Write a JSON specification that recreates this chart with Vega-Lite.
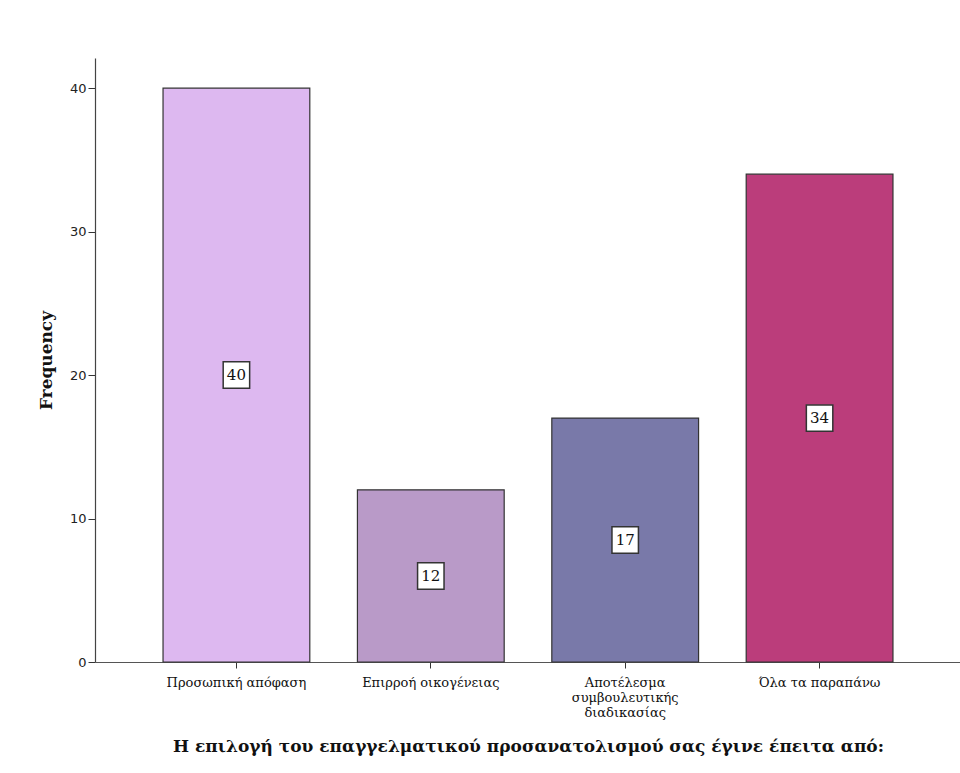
{
  "$schema": "https://vega.github.io/schema/vega-lite/v6.json",
  "width": 866,
  "height": 604,
  "autosize": {"type": "none"},
  "padding": {"left": 95, "top": 58, "right": 0, "bottom": 111},
  "background": "#ffffff",
  "config": {"view": {"stroke": null}},
  "data": {
    "values": [
      {"category": "Προσωπική απόφαση", "count": 40},
      {"category": "Επιρροή οικογένειας", "count": 12},
      {"category": "Αποτέλεσμα|συμβουλευτικής|διαδικασίας", "count": 17},
      {"category": "Όλα τα παραπάνω", "count": 34}
    ]
  },
  "transform": [{"calculate": "datum.count / 2", "as": "mid"}],
  "encoding": {
    "x": {
      "field": "category",
      "type": "nominal",
      "sort": null,
      "scale": {"paddingInner": 0.245, "paddingOuter": 0.35},
      "axis": {
        "title": "Η επιλογή του επαγγελματικού προσανατολισμού σας έγινε έπειτα από:",
        "labelExpr": "split(datum.value, '|')",
        "labelAngle": 0,
        "labelFont": "DejaVu Serif",
        "labelFontSize": 13,
        "labelColor": "#111111",
        "labelLineHeight": 15,
        "labelPadding": 8,
        "labelBaseline": "top",
        "tickSize": 6,
        "tickColor": "#333333",
        "domainColor": "#555555",
        "domainWidth": 1.2,
        "titleFont": "DejaVu Serif",
        "titleFontSize": 17,
        "titleFontWeight": "bold",
        "titleColor": "#111111",
        "titlePadding": 19
      }
    }
  },
  "layer": [
    {
      "mark": {"type": "bar", "stroke": "#333333", "strokeWidth": 1.2},
      "encoding": {
        "y": {
          "field": "count",
          "type": "quantitative",
          "scale": {"domain": [0, 42.1], "nice": false},
          "axis": {
            "title": "Frequency",
            "values": [0, 10, 20, 30, 40],
            "grid": false,
            "labelFont": "DejaVu Sans",
            "labelFontSize": 13,
            "labelColor": "#222222",
            "labelPadding": 2,
            "tickSize": 7,
            "tickColor": "#333333",
            "domainColor": "#444444",
            "domainWidth": 1.2,
            "titleFont": "DejaVu Serif",
            "titleFontSize": 17,
            "titleFontWeight": "bold",
            "titleColor": "#111111",
            "titlePadding": 14
          }
        },
        "color": {
          "field": "category",
          "type": "nominal",
          "sort": null,
          "scale": {"range": ["#DDB8F0", "#B99AC8", "#7979A9", "#BB3D7B"]},
          "legend": null
        }
      }
    },
    {
      "mark": {"type": "point", "shape": "square", "size": 700, "filled": true, "fill": "#ffffff", "stroke": "#333333", "strokeWidth": 1.5, "opacity": 1},
      "encoding": {
        "y": {"field": "mid", "type": "quantitative"}
      }
    },
    {
      "mark": {"type": "text", "font": "DejaVu Serif", "fontSize": 15, "color": "#111111", "baseline": "middle", "align": "center"},
      "encoding": {
        "y": {"field": "mid", "type": "quantitative"},
        "text": {"field": "count", "type": "quantitative"}
      }
    }
  ]
}
